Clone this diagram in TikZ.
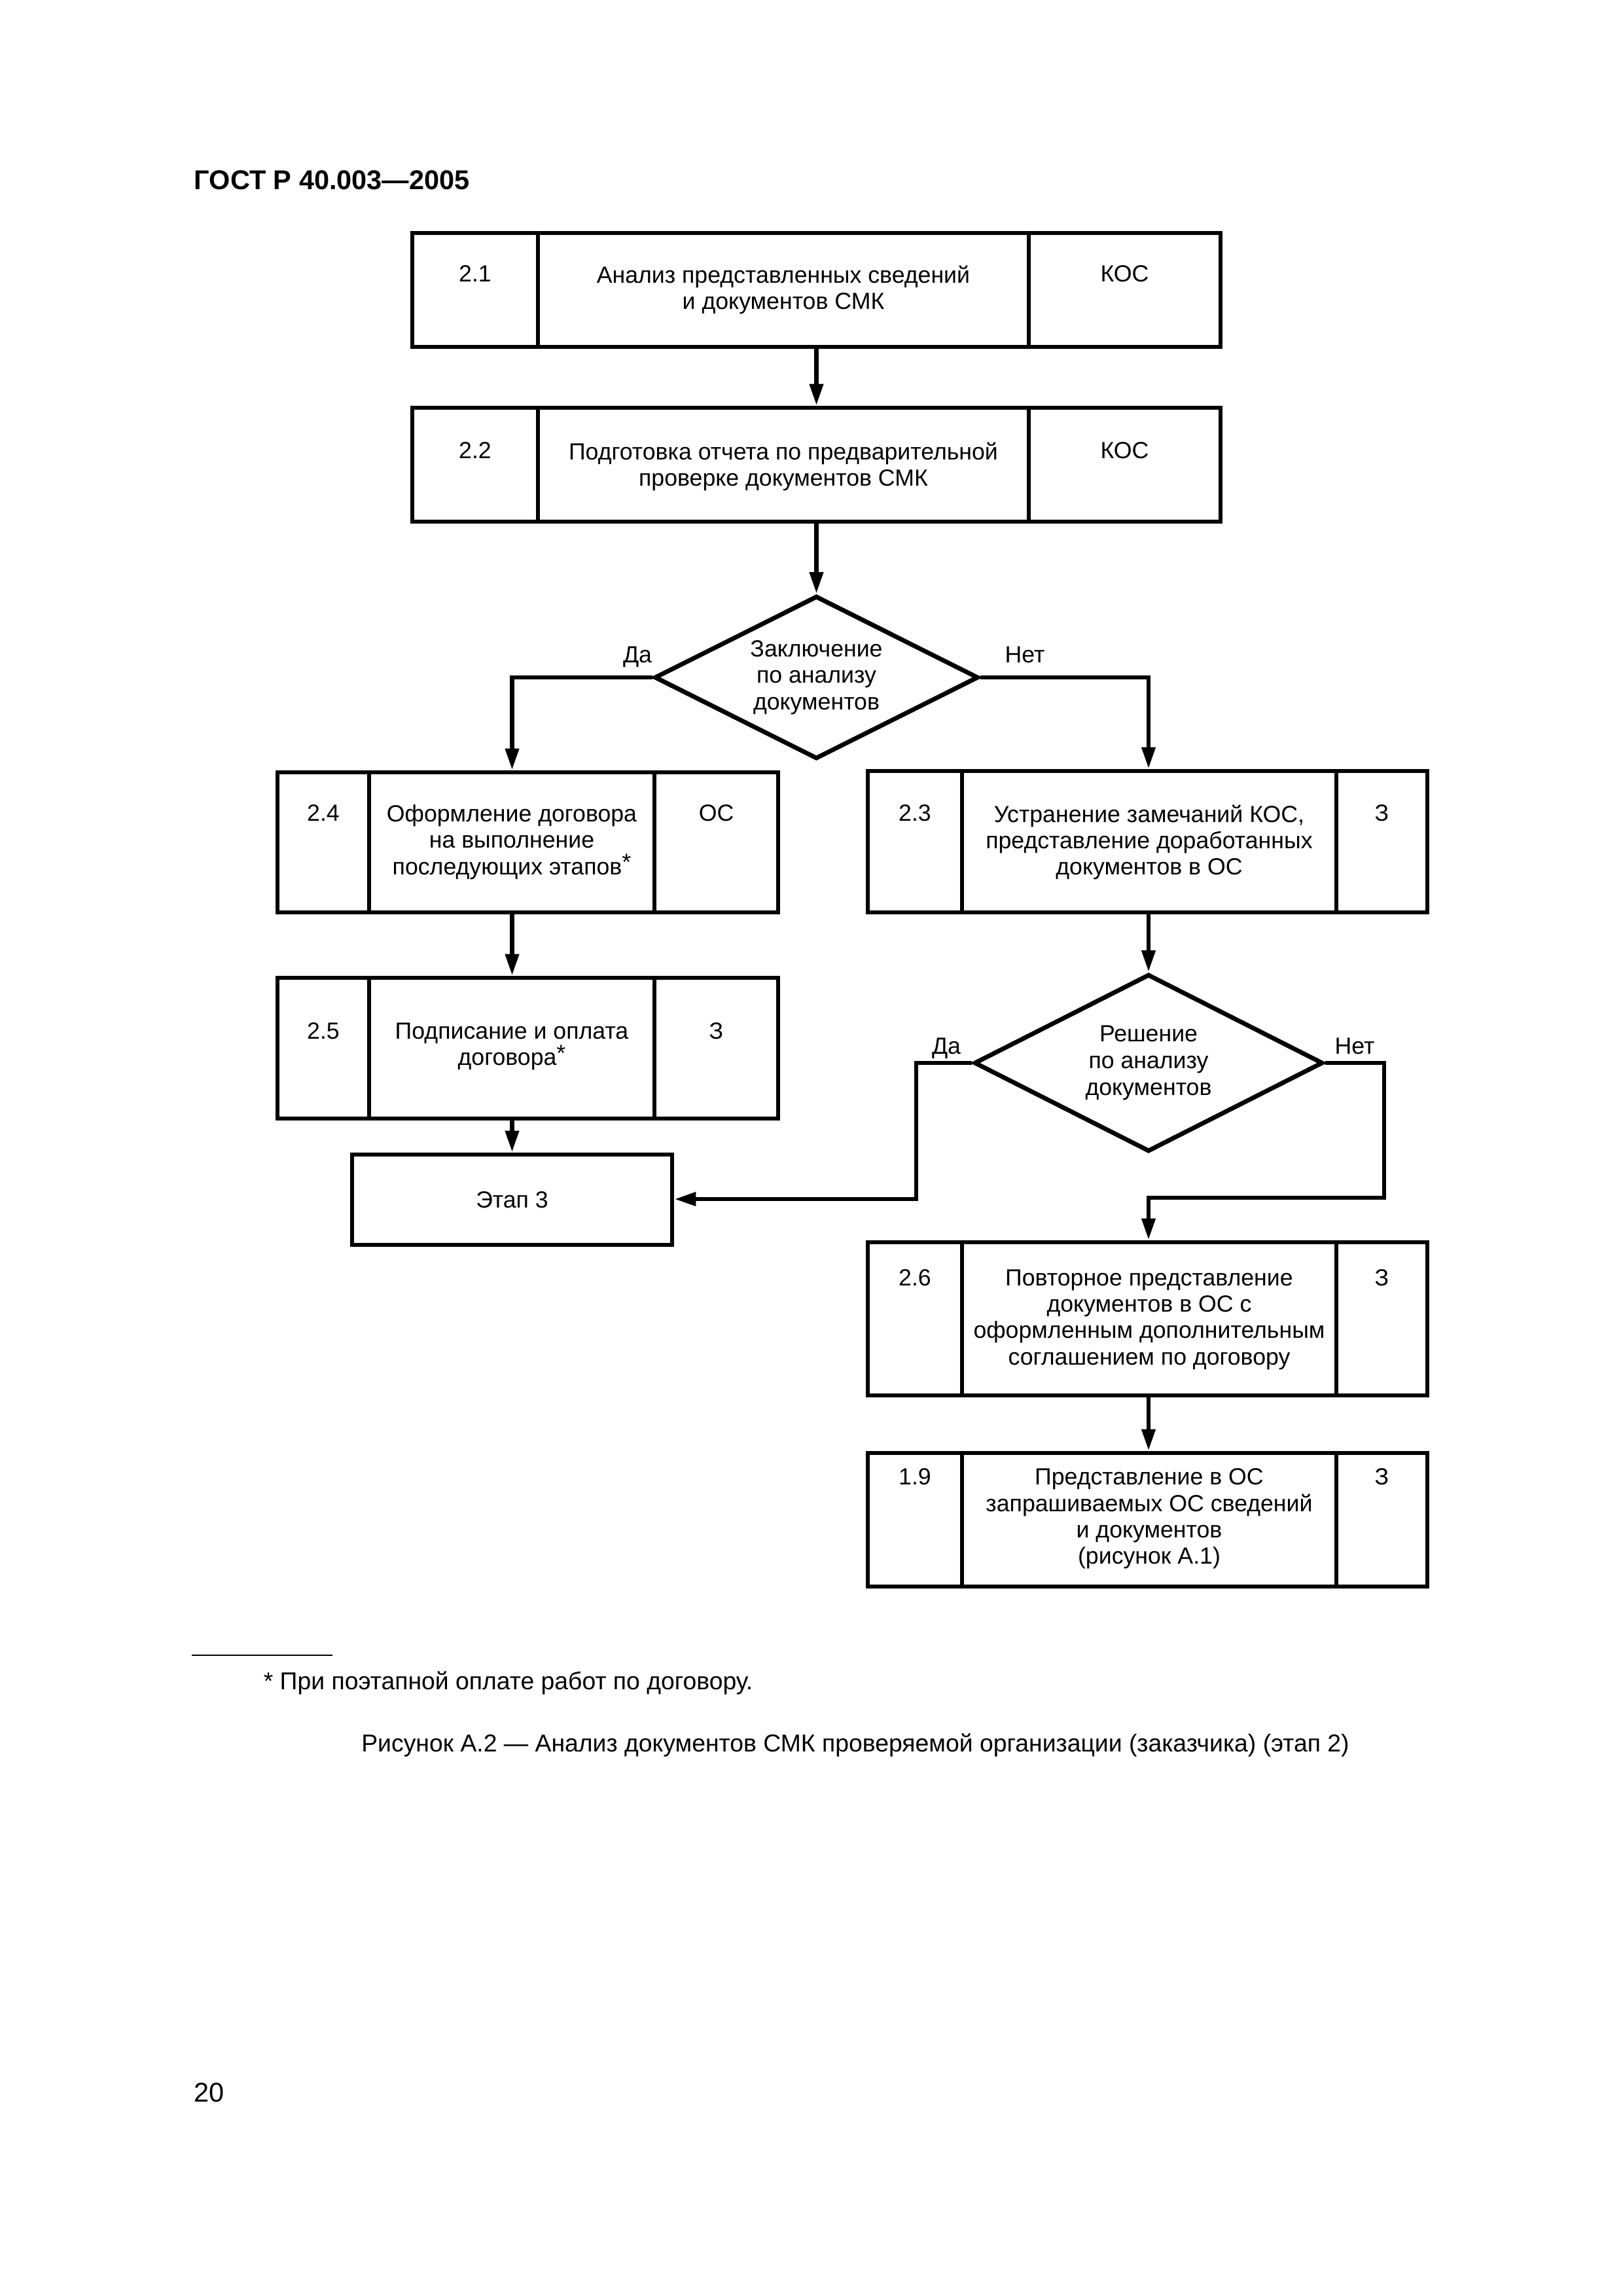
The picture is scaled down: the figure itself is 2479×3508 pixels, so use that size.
\documentclass[tikz,border=0pt]{standalone}
\usepackage{fontspec}
\setmainfont{Liberation Sans}
\usetikzlibrary{arrows.meta,shapes.geometric}
\newlength\pxu
\setlength\pxu{0.0847116mm}
\begin{document}
\begin{tikzpicture}[x=0.0847116mm,y=-0.0847116mm,
  box/.style={draw, rectangle, line width=0.58mm, inner sep=0pt},
  dia/.style={draw, shape=diamond, aspect=2, line width=0.58mm, inner sep=0pt,
    font=\fontsize{8.6}{9.8}\selectfont, align=center},
  txt/.style={font=\fontsize{8.6}{9.7}\selectfont, align=center, inner sep=0pt, anchor=north},
  lbl/.style={font=\fontsize{8.6}{9.7}\selectfont, inner sep=0pt, anchor=base},
  conn/.style={line width=0.58mm},
  arr/.style={conn, -{Triangle[length=2.8mm,width=1.7mm]}}]
\useasboundingbox (0,0) rectangle (2479,3508);

% header
\node[anchor=base west, inner sep=0pt, font=\fontsize{10}{12}\selectfont\bfseries] (hdr) at (296,289) {ГОСТ Р 40.003—2005};

% boxes
\node[box, minimum width=1235\pxu, minimum height=174\pxu] (b21) at (1247.5,443) {};
\node[box, minimum width=1235\pxu, minimum height=174\pxu] (b22) at (1247.5,710) {};
\node[box, minimum width=765\pxu, minimum height=214\pxu] (b24) at (806.5,1287) {};
\node[box, minimum width=765\pxu, minimum height=215\pxu] (b25) at (806.5,1601.5) {};
\node[box, minimum width=489\pxu, minimum height=138\pxu, font=\fontsize{8.6}{9.7}\selectfont] (etap) at (782.5,1833) {Этап 3};
\node[box, minimum width=855\pxu, minimum height=216\pxu] (b23) at (1753.5,1286) {};
\node[box, minimum width=855\pxu, minimum height=234\pxu] (b26) at (1753.5,2015) {};
\node[box, minimum width=855\pxu, minimum height=204\pxu] (b19) at (1753.5,2322) {};

% diamonds
\node[dia, minimum width=495\pxu, minimum height=249\pxu] (d1) at (1247.5,1035) {Заключение\\по анализу\\документов};
\node[dia, minimum width=533\pxu, minimum height=271\pxu] (d2) at (1755,1624) {Решение\\по анализу\\документов};

% dividers
\foreach \b in {b21,b22}{
  \draw[conn] (822,0 |- \b.north) -- (822,0 |- \b.south);
  \draw[conn] (1572,0 |- \b.north) -- (1572,0 |- \b.south);}
\foreach \b in {b24,b25}{
  \draw[conn] (564,0 |- \b.north) -- (564,0 |- \b.south);
  \draw[conn] (1000,0 |- \b.north) -- (1000,0 |- \b.south);}
\foreach \b in {b23,b26,b19}{
  \draw[conn] (1470,0 |- \b.north) -- (1470,0 |- \b.south);
  \draw[conn] (2042,0 |- \b.north) -- (2042,0 |- \b.south);}

% texts
\node[txt] (t21a) at (726,405) {2.1};
\node[txt] (t21b) at (1197,405) {Анализ представленных сведений\\и документов СМК};
\node[txt] (t21c) at (1718.5,405) {КОС};
\node[txt] (t22a) at (726,675) {2.2};
\node[txt] (t22b) at (1197,675) {Подготовка отчета по предварительной\\проверке документов СМК};
\node[txt] (t22c) at (1718.5,675) {КОС};
\node[txt] (t24a) at (494,1229) {2.4};
\node[txt] (t24b) at (782,1229) {Оформление договора\\на выполнение\\последующих этапов\raisebox{0.35ex}{*}};
\node[txt] (t24c) at (1094.5,1229) {ОС};
\node[txt] (t25a) at (494,1562) {2.5};
\node[txt] (t25b) at (782,1562) {Подписание и оплата\\договора\raisebox{0.35ex}{*}};
\node[txt] (t25c) at (1094.5,1562) {З};
\node[txt] (t23a) at (1398,1229) {2.3};
\node[txt] (t23b) at (1756,1229) {Устранение замечаний КОС,\\представление доработанных\\документов в ОС};
\node[txt] (t23c) at (2111.5,1229) {З};
\node[txt] (t26a) at (1398,1939) {2.6};
\node[txt] (t26b) at (1756,1939) {Повторное представление\\документов в ОС с\\оформленным дополнительным\\соглашением по договору};
\node[txt] (t26c) at (2111.5,1939) {З};
\node[txt] (t19a) at (1398,2243) {1.9};
\node[txt] (t19b) at (1756,2243) {Представление в ОС\\запрашиваемых ОС сведений\\и документов\\(рисунок А.1)};
\node[txt] (t19c) at (2111.5,2243) {З};

% labels
\node[lbl] (da1) at (974,1012) {Да};
\node[lbl] (net1) at (1566,1012) {Нет};
\node[lbl] (da2) at (1446,1610) {Да};
\node[lbl] (net2) at (2070,1610) {Нет};

% helper coordinates
\coordinate (colL) at (782.5,0);
\coordinate (colR) at (1755,0);
\coordinate (jL) at (1400,1832);
\coordinate (jR) at (2115,1830);

% connectors
\draw[arr] (b21) -- (b22);
\draw[arr] (b22) -- (d1);
\draw[arr] (d1.west) -| (colL |- b24.north);
\draw[arr] (d1.east) -| (colR |- b23.north);
\draw[arr] (colL |- b24.south) -- (colL |- b25.north);
\draw[arr] (colL |- b25.south) -- (etap.north);
\draw[arr] (colR |- b23.south) -- (d2.north);
\draw[arr] (d2.west) -| (jL) -- (jL -| etap.east);
\draw[arr] (d2.east) -| (jR) -| (colR |- b26.north);
\draw[arr] (colR |- b26.south) -- (colR |- b19.north);

% footnote
\draw[line width=0.23mm] (293,2529) -- (508,2529);
\node[anchor=base west, inner sep=0pt, font=\fontsize{9}{10.8}\selectfont] (fn) at (402,2581) {* При поэтапной оплате работ по договору.};
\node[anchor=base, inner sep=0pt, font=\fontsize{9}{10.8}\selectfont] (cap) at (1307,2676) {Рисунок А.2 — Анализ документов СМК проверяемой организации (заказчика) (этап 2)};
\node[anchor=base west, inner sep=0pt, font=\fontsize{10}{12}\selectfont] (pg) at (296,3211) {20};
\end{tikzpicture}
\end{document}
